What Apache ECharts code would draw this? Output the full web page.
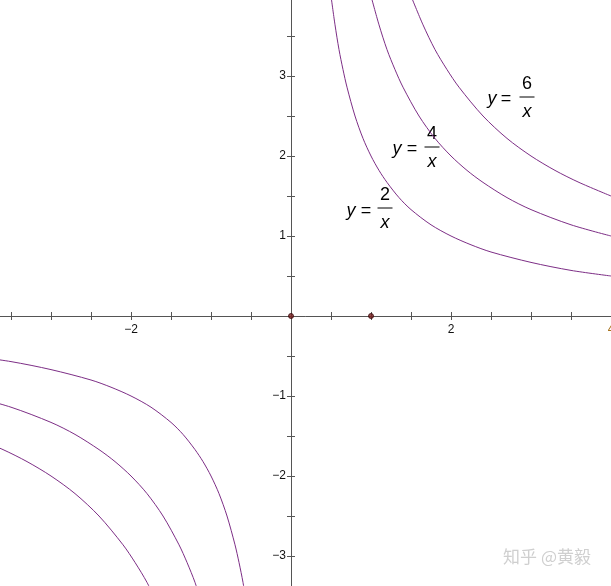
<!DOCTYPE html>
<html>
<head>
<meta charset="utf-8">
<script src="https://cdn.jsdelivr.net/npm/echarts@6/dist/echarts.min.js"></script>
<style>
html,body{margin:0;padding:0;background:#fff;}
#c{width:611px;height:586px;}
</style>
</head>
<body>
<div id="c"></div>
<script>
// ---- data ----
const curve2Pos = [[0.5,4.0],[0.55,3.64],[0.6,3.33],[0.65,3.08],[0.7,2.86],[0.8,2.5],[0.9,2.22],[1.0,2.0],[1.1,1.82],[1.2,1.67],[1.35,1.48],[1.5,1.33],[1.75,1.14],[2.0,1.0],[2.25,0.89],[2.5,0.8],[3.0,0.67],[3.5,0.57],[4.0,0.5]];
const curve2Neg = [[-4.0,-0.5],[-3.5,-0.57],[-3.0,-0.67],[-2.5,-0.8],[-2.25,-0.89],[-2.0,-1.0],[-1.75,-1.14],[-1.5,-1.33],[-1.35,-1.48],[-1.2,-1.67],[-1.1,-1.82],[-1.0,-2.0],[-0.9,-2.22],[-0.8,-2.5],[-0.7,-2.86],[-0.65,-3.08],[-0.6,-3.33],[-0.55,-3.64]];
const curve4Pos = [[1.0,4.0],[1.1,3.64],[1.2,3.33],[1.3,3.08],[1.4,2.86],[1.6,2.5],[1.8,2.22],[2.0,2.0],[2.2,1.82],[2.4,1.67],[2.7,1.48],[3.0,1.33],[3.5,1.14],[4.0,1.0]];
const curve4Neg = [[-4.0,-1.0],[-3.5,-1.14],[-3.0,-1.33],[-2.7,-1.48],[-2.4,-1.67],[-2.2,-1.82],[-2.0,-2.0],[-1.8,-2.22],[-1.6,-2.5],[-1.4,-2.86],[-1.3,-3.08],[-1.2,-3.33],[-1.1,-3.64]];
const curve6Pos = [[1.5,4.0],[1.65,3.64],[1.8,3.33],[1.95,3.08],[2.1,2.86],[2.4,2.5],[2.7,2.22],[3.0,2.0],[3.3,1.82],[3.6,1.67],[4.0,1.5]];
const curve6Neg = [[-4.0,-1.5],[-3.6,-1.67],[-3.3,-1.82],[-3.0,-2.0],[-2.7,-2.22],[-2.4,-2.5],[-2.1,-2.86],[-1.95,-3.08],[-1.8,-3.33],[-1.65,-3.64]];
const markedPoints = [[0,0],[1,0]];
const xTickLabels = [-2, 2, 4];
const yTickLabels = [-3, -2, -1, 1, 2, 3, 4];
const fractionNumerators = ['2', '4', '6'];
const watermarkText = '知乎 @黄毅';

// ---- layout / style ----
const CURVE = '#7d2e86';
const AXIS = '#555555';
const FONT = '"Liberation Sans", Arial';
const labelLayout = [
  {yx:351, ex:366, my:211, fx:385, ny:195, by:208, dy:223},
  {yx:397, ex:412, my:149, fx:432, ny:134, by:147, dy:162},
  {yx:492, ex:506, my:99,  fx:527, ny:84,  by:97,  dy:112}
];
const fmtNum = v => (v < 0 ? '\u2212' + (-v) : String(v));
const X_MIN = -4, X_MAX = 4, Y_MIN = -3.5, Y_MAX = 4, STEP = 0.5;

// plot grid spans the whole canvas (extends a little past it); axes grids put their edge on the zero lines
const plotGrid = {left:-29, right:0, top:-4, bottom:-10};
const yAxisGrid = {left:291, right:0, top:-4, bottom:-10};   // left edge = x 0
const xAxisGrid = {left:-29, right:0, top:-4, bottom:270};   // bottom edge = y 0
const g = o => Object.assign({containLabel:false, outerBoundsMode:'none'}, o);

const chart = echarts.init(document.getElementById('c'), null, {renderer:'canvas'});

function lineSeries(data){
  return {type:'line', xAxisIndex:0, yAxisIndex:0, data:data, smooth:0.3, showSymbol:false, symbol:'none',
    lineStyle:{color:CURVE, width:1}, itemStyle:{color:CURVE}, clip:true, z:3, silent:true, animation:false};
}
const hidden = (gi, min, max) => ({type:'value', gridIndex:gi, min:min, max:max, show:false});

const graphics = [];
labelLayout.forEach((L, i) => {
  graphics.push({type:'text', style:{text:'y', x:L.yx, y:L.my, font:'italic 18px ' + FONT, fill:'#000', align:'center', verticalAlign:'middle'}});
  graphics.push({type:'text', style:{text:'=', x:L.ex, y:L.my, font:'18px ' + FONT, fill:'#000', align:'center', verticalAlign:'middle'}});
  graphics.push({type:'text', style:{text:fractionNumerators[i], x:L.fx, y:L.ny, font:'18px ' + FONT, fill:'#000', align:'center', verticalAlign:'middle'}});
  graphics.push({type:'line', shape:{x1:L.fx-7.5, y1:L.by, x2:L.fx+7.5, y2:L.by}, style:{stroke:'#000', lineWidth:1}});
  graphics.push({type:'text', style:{text:'x', x:L.fx, y:L.dy, font:'italic 18px ' + FONT, fill:'#000', align:'center', verticalAlign:'middle'}});
});
graphics.push({type:'text', style:{text:watermarkText, x:591, y:557, font:'17px "Noto Sans CJK SC"', fill:'#cfcfcf', align:'right', verticalAlign:'middle'}});

const option = {
  animation:false,
  backgroundColor:'#ffffff',
  grid:[g(plotGrid), g(yAxisGrid), g(yAxisGrid), g(xAxisGrid), g(xAxisGrid)],
  xAxis:[
    hidden(0, X_MIN, X_MAX),
    hidden(1, 0, X_MAX),
    hidden(2, 0, X_MAX),
    {type:'value', gridIndex:3, min:X_MIN, max:X_MAX, interval:STEP, position:'bottom',
     axisLine:{show:true, onZero:false, lineStyle:{color:AXIS, width:1}},
     axisTick:{show:true, length:4, lineStyle:{color:AXIS}},
     axisLabel:{show:true, margin:8, fontSize:12, fontFamily:FONT, color:'#111',
       showMinLabel:true, showMaxLabel:true, hideOverlap:false,
       formatter: v => xTickLabels.indexOf(v) >= 0 ? (v === 4 ? '{o|4}' : fmtNum(v)) : '',
       rich:{o:{color:'#a8741e', fontSize:12, fontFamily:FONT}}},
     splitLine:{show:false}},
    {type:'value', gridIndex:4, min:X_MIN, max:X_MAX, interval:STEP, position:'bottom',
     axisLine:{show:false, onZero:false},
     axisTick:{show:true, inside:true, length:4, lineStyle:{color:AXIS}},
     axisLabel:{show:false}, splitLine:{show:false}}
  ],
  yAxis:[
    hidden(0, Y_MIN, Y_MAX),
    {type:'value', gridIndex:1, min:Y_MIN, max:Y_MAX, interval:STEP, position:'left',
     axisLine:{show:true, onZero:false, lineStyle:{color:AXIS, width:1}},
     axisTick:{show:true, length:4, lineStyle:{color:AXIS}},
     axisLabel:{show:true, margin:5, fontSize:12, fontFamily:FONT, color:'#111',
       showMinLabel:true, showMaxLabel:true, hideOverlap:false,
       formatter: v => yTickLabels.indexOf(v) >= 0 ? fmtNum(v) : ''},
     splitLine:{show:false}},
    {type:'value', gridIndex:2, min:Y_MIN, max:Y_MAX, interval:STEP, position:'left',
     axisLine:{show:false, onZero:false},
     axisTick:{show:true, inside:true, length:4, lineStyle:{color:AXIS}},
     axisLabel:{show:false}, splitLine:{show:false}},
    hidden(3, 0, Y_MAX),
    hidden(4, 0, Y_MAX)
  ],
  series:[
    lineSeries(curve2Pos), lineSeries(curve2Neg),
    lineSeries(curve4Pos), lineSeries(curve4Neg),
    lineSeries(curve6Pos), lineSeries(curve6Neg),
    {type:'scatter', xAxisIndex:0, yAxisIndex:0, data:markedPoints, symbolSize:5, z:5,
     itemStyle:{color:'#7a1f1f', borderColor:'#3a0b0b', borderWidth:1}, silent:true}
  ],
  graphic:graphics
};
chart.setOption(option);
</script>
</body>
</html>
